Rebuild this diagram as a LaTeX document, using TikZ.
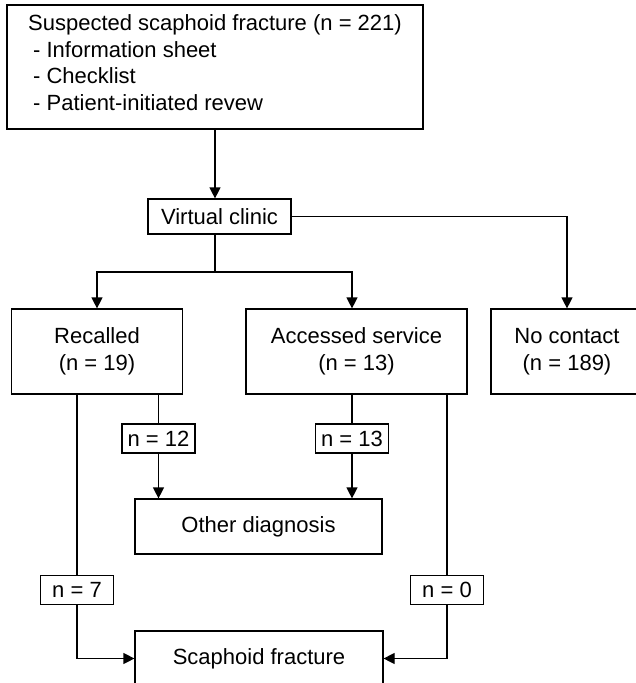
\documentclass[tikz,border=0pt]{standalone}
\usepackage{fontspec}
\setmainfont{Liberation Sans}
\usetikzlibrary{arrows.meta}

\begin{document}
\begin{tikzpicture}[x=1pt,y=-1pt,
  box/.style={draw, line width=1.2pt, inner sep=0pt, align=center,
    font=\fontsize{22}{27}\selectfont},
  count/.style={box, minimum width=73pt, minimum height=29pt},
  link/.style={line width=1.2pt},
  arr/.style={link, -{Triangle[length=11pt,width=11pt]}}]
  % Frame of the figure
  \useasboundingbox (0,0) rectangle (636,683);

  % Boxes
  \node[box, align=left, minimum width=416pt, minimum height=124pt,
    font=\fontsize{22}{26.5}\selectfont] (suspect) at (215,67)
    {Suspected scaphoid fracture (n = 221)\\
     \hspace*{5pt}- Information sheet\\
     \hspace*{5pt}- Checklist\\
     \hspace*{5pt}- Patient-initiated revew\rule[-8.5pt]{0pt}{8.5pt}};
  \node[box, minimum width=143pt, minimum height=35pt] (clinic) at (219.5,216.5) {Virtual clinic};
  \node[box, minimum width=171pt, minimum height=85pt] (recalled) at (97,351.5) {Recalled\\(n = 19)};
  \node[box, minimum width=221pt, minimum height=85pt] (accessed) at (356.5,351.5) {Accessed service\\(n = 13)};
  \node[box, minimum width=152pt, minimum height=85pt] (nocontact) at (567,351.5) {No contact\\(n = 189)};
  \node[count] (n12) at (158.5,438.5) {n = 12};
  \node[count] (n13) at (352,438.5) {n = 13};
  \node[box, minimum width=247pt, minimum height=55pt] (other) at (258.5,526.5) {Other diagnosis};
  \node[count] (n7) at (77,590) {n = 7};
  \node[count] (n0) at (447,590) {n = 0};
  \node[box, minimum width=248pt, minimum height=55pt] (scaphoid) at (259,658.5) {Scaphoid fracture};

  % Connectors
  \coordinate (fork) at (215,272);
  \draw[arr] (suspect.south) -- (suspect.south |- clinic.north);
  \draw[arr] (clinic.east) -| (nocontact.north);
  \draw[link] (suspect.south |- clinic.south) -- (fork);
  \draw[arr] (fork) -| (recalled.north);
  \draw[arr] (fork) -| (accessed.north -| n13.north);

  \draw[link] (recalled.south -| n7.north) -- (n7.north);
  \draw[link] (recalled.south -| n12.north) -- (n12.north);
  \draw[link] (accessed.south -| n13.north) -- (n13.north);
  \draw[link] (accessed.south -| n0.north) -- (n0.north);
  \draw[arr] (n12.south) -- (n12.south |- other.north);
  \draw[arr] (n13.south) -- (n13.south |- other.north);
  \draw[arr] (n7.south) |- (scaphoid.west);
  \draw[arr] (n0.south) |- (scaphoid.east);
\end{tikzpicture}
\end{document}
